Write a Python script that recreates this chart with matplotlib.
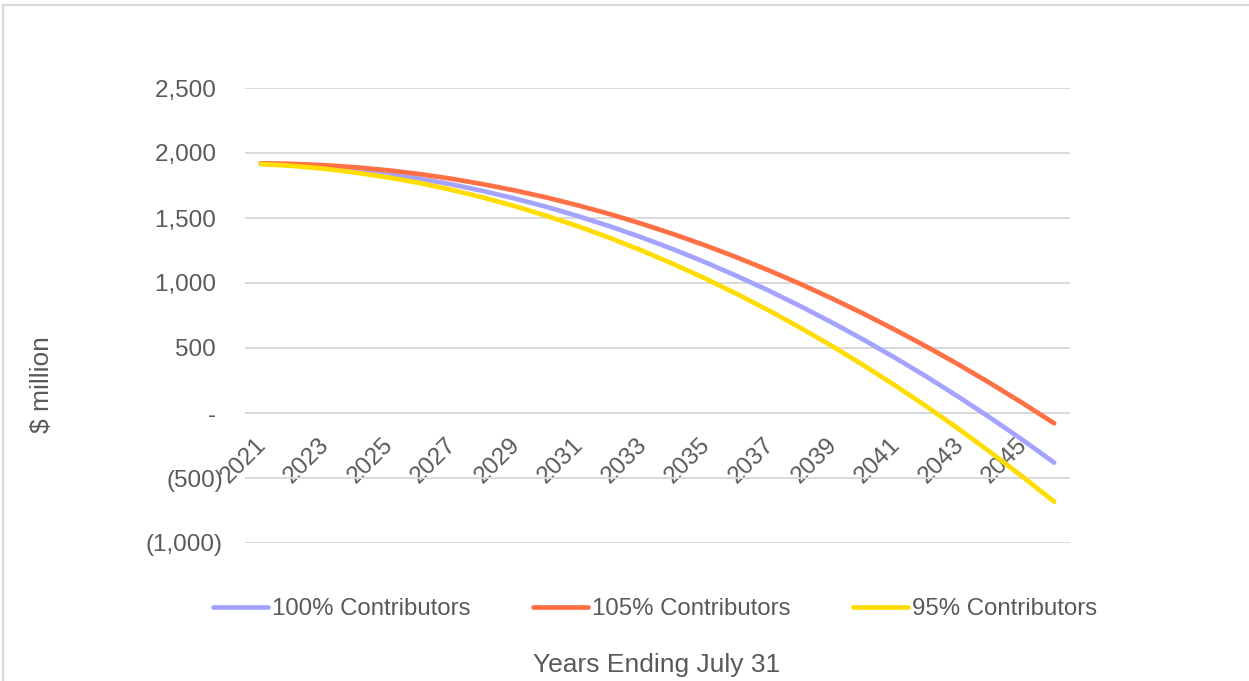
import numpy as np
import matplotlib.pyplot as plt
from matplotlib.lines import Line2D

plt.rcParams['font.family'] = ['Liberation Sans', 'DejaVu Sans']

# Projected balance, $ million, years ending July 31
years = list(range(2021, 2047))
contrib_100 = [1920, 1910, 1894, 1870, 1840, 1803, 1759, 1708, 1650, 1586,
               1514, 1436, 1351, 1259, 1160, 1054, 942, 822, 696, 563,
               423, 276, 122, -39, -206, -382]
contrib_105 = [1920, 1916, 1906, 1890, 1867, 1838, 1802, 1760, 1712, 1658,
               1597, 1530, 1456, 1376, 1290, 1197, 1098, 993, 881, 763,
               638, 508, 371, 227, 77, -79]
contrib_95 = [1915, 1901, 1879, 1849, 1813, 1769, 1717, 1658, 1591, 1517,
              1436, 1347, 1250, 1146, 1035, 916, 790, 656, 515, 366,
              210, 47, -124, -303, -489, -682]

y_ticks = [-1000, -500, 0, 500, 1000, 1500, 2000, 2500]
y_labels = ['(1,000)', '(500)', '- ', '500 ', '1,000 ', '1,500 ', '2,000 ', '2,500 ']

text_color = '#595959'
grid_color = '#D9D9D9'

W, H = 1249, 681
fig = plt.figure(figsize=(W / 100, H / 100), dpi=100)
ax = fig.add_axes([245 / W, 1 - 543 / H, 825 / W, 455 / H])

x = np.arange(len(years))
series = [
    ('100% Contributors', contrib_100, '#A4A4FF'),
    ('105% Contributors', contrib_105, '#FF7045'),
    ('95% Contributors', contrib_95, '#FFDD00'),
]
handles = []
for label, vals, color in series:
    line, = ax.plot(x, vals, color=color, lw=3.4, solid_capstyle='round',
                    label=label)
    handles.append(line)

ax.set_xlim(-0.5, len(years) - 0.5)
ax.set_ylim(-1000, 2500)

# horizontal gridlines only
ax.set_yticks(y_ticks)
ax.set_yticklabels(y_labels)
ax.yaxis.grid(True, color=grid_color, lw=1.4)
ax.set_axisbelow(True)
for s in ax.spines.values():
    s.set_visible(False)

# category axis crosses at zero, every other year labelled
ax.spines['bottom'].set_position(('data', 0))
ax.set_xticks(x[::2])
ax.set_xticklabels([str(y) for y in years[::2]])
ax.tick_params(axis='x', length=0, pad=19.5, labelsize=17.5, labelcolor=text_color)
ax.tick_params(axis='y', length=0, pad=16, labelsize=17.5, labelcolor=text_color)
for lbl in ax.get_xticklabels():
    lbl.set_rotation(45)
    lbl.set_ha('right')
    lbl.set_va('center_baseline')
    lbl.set_rotation_mode('anchor')

fig.text(42 / W, 1 - 385 / H, '$ million', rotation=90, ha='center', va='center',
         fontsize=19, color=text_color)
fig.text(657 / W, 1 - 665 / H, 'Years Ending July 31', ha='center', va='center',
         fontsize=19, color=text_color)

fig.legend(handles, [h.get_label() for h in handles], loc='center',
           bbox_to_anchor=(655 / W, 1 - 609 / H), ncol=3, frameon=False,
           handlelength=2.3, handletextpad=0.15, columnspacing=2.6,
           fontsize=17.3, labelcolor=text_color)

# chart area border (top and left edges)
fig.add_artist(Line2D([3 / W, 1], [1 - 5 / H, 1 - 5 / H], color=grid_color, lw=1.5))
fig.add_artist(Line2D([3 / W, 3 / W], [0, 1 - 5 / H], color=grid_color, lw=1.5))

fig.savefig('out.png', dpi=100)
